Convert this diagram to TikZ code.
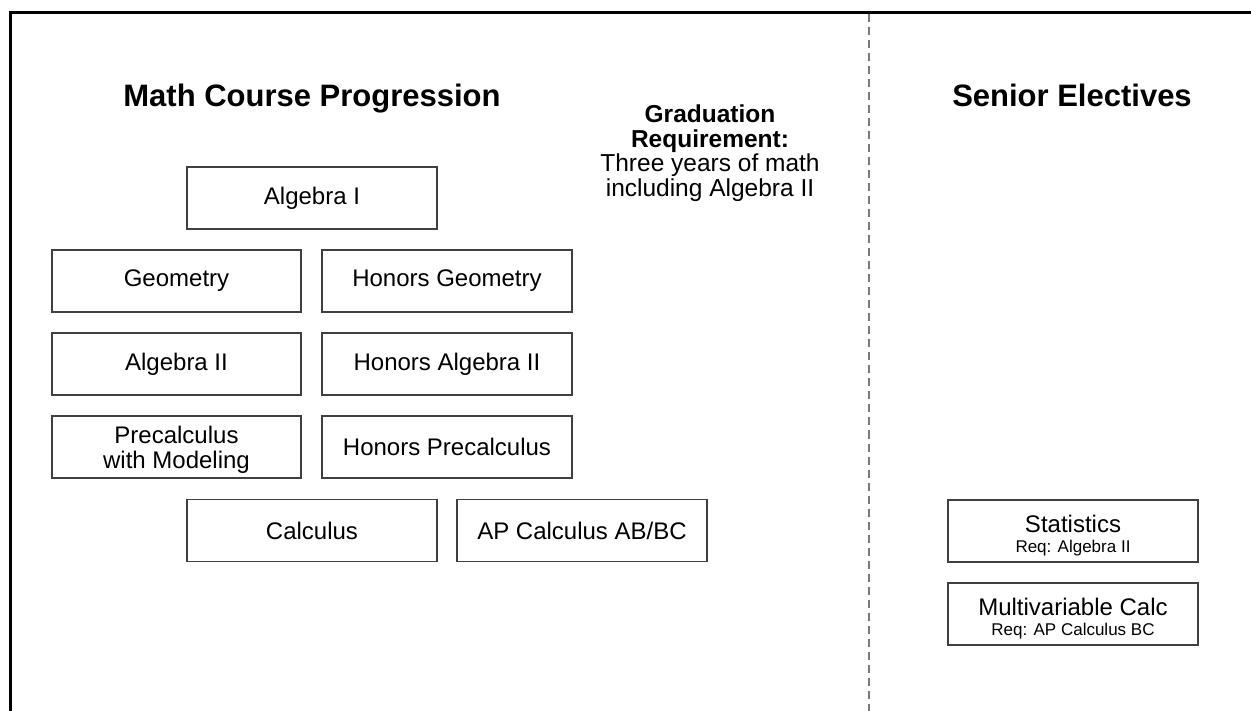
\documentclass[tikz,border=0pt]{standalone}
\usepackage{fontspec}
\setmainfont{Liberation Sans}
\begin{document}
\begin{tikzpicture}[x=1pt,y=-1pt,
  course/.style={draw=boxline, line width=1.4pt, rectangle, inner sep=0pt,
    minimum width=250pt, minimum height=62pt, align=center,
    font=\fontsize{24}{25.5}\selectfont, text=black},
  heading/.style={font=\bfseries\fontsize{31}{36}\selectfont, inner sep=0pt, anchor=base},
  note/.style={align=center, font=\fontsize{24.5}{24.5}\selectfont, inner sep=0pt},
  frameline/.style={line width=3pt, black},
  divider/.style={draw=dividergray, line width=1.4pt, dash pattern=on 8pt off 5pt}]
\definecolor{boxline}{HTML}{404040}
\definecolor{dividergray}{HTML}{7A7A7A}
\useasboundingbox (0,0) rectangle (1251,711);

% outer frame (open at right and bottom)
\coordinate (fbl) at (10.5,711);
\coordinate (ftl) at (10.5,13);
\coordinate (ftr) at (1251,13);
\draw[frameline] (fbl) -- (ftl) -- (ftr);

% dashed divider
\coordinate (dtop) at (869,14.5);
\coordinate (dbot) at (869,711);
\draw[divider] (dtop) -- (dbot);

% headings
\node[heading] (hmath) at (312,107) {Math Course Progression};
\node[heading] (hsenior) at (1072,107) {Senior Electives};

% graduation requirement note
\node[note] (grad) at (710,153) {\textbf{Graduation}\\\textbf{Requirement:}\\Three years of math\\including Algebra II};

% course boxes
\node[course] (alg1) at (312,198) {Algebra I};
\node[course, minimum width=249pt] (geo) at (176.5,281) {Geometry};
\node[course] (hgeo) at (447,281) {Honors Geometry};
\node[course, minimum width=249pt] (alg2) at (176.5,364) {Algebra II};
\node[course] (halg2) at (447,364) {Honors Algebra II};
\node[course, minimum width=249pt] (pre) at (176.5,447) {};
\node[inner sep=0pt, align=center, font=\fontsize{24}{25.5}\selectfont] (pretext) at (176.5,450) {Precalculus\\with Modeling};
\node[course] (hpre) at (447,447) {Honors Precalculus};
\node[course] (calc) at (312,530.5) {Calculus};
\node[course] (apcalc) at (582,530.5) {AP Calculus AB/BC};

% senior electives
\node[course] (stats) at (1073,531) {};
\node[inner sep=0pt, font=\fontsize{24}{25}\selectfont] (statsname) at (1073,524) {Statistics};
\node[inner sep=0pt, font=\fontsize{17}{18}\selectfont] (statsreq) at (1073,548) {Req: Algebra II};
\node[course] (mvc) at (1073,614) {};
\node[inner sep=0pt, font=\fontsize{24}{25}\selectfont] (mvcname) at (1073,607) {Multivariable Calc};
\node[inner sep=0pt, font=\fontsize{17}{18}\selectfont] (mvcreq) at (1073,631) {Req: AP Calculus BC};
\end{tikzpicture}
\end{document}
